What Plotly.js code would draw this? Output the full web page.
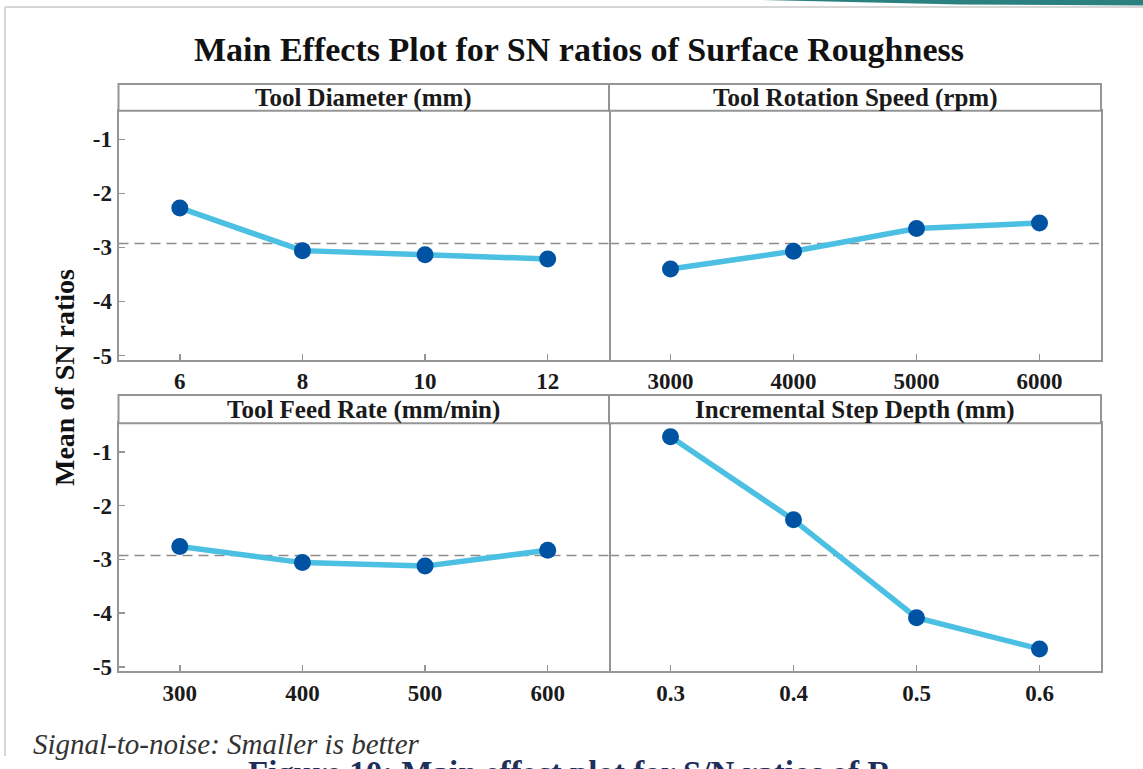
<!DOCTYPE html>
<html><head><meta charset="utf-8">
<script src="https://cdn.plot.ly/plotly-3.0.1.min.js"></script>
<style>html,body{margin:0;padding:0;background:#fff;}#chart{width:1143px;height:769px;}</style>
</head><body><div id="chart"></div>
<script>
const chartTitle = 'Main Effects Plot for SN ratios of Surface Roughness';
const yAxisTitle = 'Mean of SN ratios';
const footnote = 'Signal-to-noise: Smaller is better';
const caption = 'Figure 10: Main effect plot for S/N ratios of R';

const panelTitles = ['Tool Diameter (mm)', 'Tool Rotation Speed (rpm)', 'Tool Feed Rate (mm/min)', 'Incremental Step Depth (mm)'];

const toolDiameterLevels = [6, 8, 10, 12];
const toolDiameterSN = [-2.27, -3.06, -3.135, -3.215];
const rotationSpeedLevels = [3000, 4000, 5000, 6000];
const rotationSpeedSN = [-3.40, -3.07, -2.65, -2.55];
const feedRateLevels = [300, 400, 500, 600];
const feedRateSN = [-2.76, -3.06, -3.125, -2.83];
const stepDepthLevels = [0.3, 0.4, 0.5, 0.6];
const stepDepthSN = [-0.72, -2.265, -4.085, -4.665];

const xTickLabels = [['6','8','10','12'], ['3000','4000','5000','6000'], ['300','400','500','600'], ['0.3','0.4','0.5','0.6']];
const yTickValues = [-1, -2, -3, -4, -5];
const yTickLabels = ['-1', '-2', '-3', '-4', '-5'];

const W = 1143, H = 769;
const px = x => x / W;
const py = y => 1 - y / H;

const levels = [toolDiameterLevels, rotationSpeedLevels, feedRateLevels, stepDepthLevels];
const sn = [toolDiameterSN, rotationSpeedSN, feedRateSN, stepDepthSN];
const allSN = [].concat(...sn);
const grandMean = allSN.reduce((a, b) => a + b, 0) / allSN.length;

const serif = '"Liberation Serif", "Times New Roman", serif';
const axisGray = '#959595';
const lineBlue = '#4cc0e2';
const markerBlue = '#0052a3';

// panel geometry in pixels [left, right, stripTop, plotTop, plotBottom]
const panels = [
  [118.5, 609, 84, 110.7, 359.5],
  [609, 1101, 84, 110.7, 359.5],
  [118.5, 609, 395, 423.3, 671],
  [609, 1101, 395, 423.3, 671]
];
const yRange = [-5.075, -0.47];

const data = [];
const layout = {
  width: W, height: H,
  margin: {l: 0, r: 0, t: 0, b: 0},
  paper_bgcolor: '#ffffff', plot_bgcolor: '#ffffff',
  showlegend: false,
  font: {family: serif, color: '#000'},
  shapes: [], annotations: []
};

for (let i = 0; i < 4; i++) {
  const [l, r, st, pt, pb] = panels[i];
  const sfx = i === 0 ? '' : String(i + 1);
  const lv = levels[i];
  const step = lv[1] - lv[0];
  data.push({
    type: 'scatter', mode: 'lines+markers',
    x: lv, y: sn[i],
    xaxis: 'x' + sfx, yaxis: 'y' + sfx,
    line: {color: lineBlue, width: 5.5},
    marker: {color: markerBlue, size: 17, symbol: 'circle'},
    hoverinfo: 'x+y'
  });
  const isLeft = (i % 2 === 0);
  layout['xaxis' + sfx] = {
    domain: [px(l), px(r)],
    anchor: 'y' + sfx,
    range: [lv[0] - step / 2, lv[lv.length - 1] + step / 2],
    tickvals: lv, ticktext: xTickLabels[i],
    ticks: 'inside', ticklen: 6, tickwidth: 1.5, tickcolor: axisGray,
    showline: true, linecolor: axisGray, linewidth: 2, mirror: true,
    showgrid: false, zeroline: false,
    tickfont: {family: serif, size: 23, color: '#1a1a1a', weight: 'bold'},
    fixedrange: true
  };
  layout['yaxis' + sfx] = isLeft ? {
    domain: [py(pb), py(pt)],
    anchor: 'x' + sfx,
    range: yRange,
    tickvals: yTickValues, ticktext: yTickLabels,
    ticks: 'inside', ticklen: 6, tickwidth: 1.5, tickcolor: axisGray,
    showline: true, linecolor: axisGray, linewidth: 2, mirror: true,
    showgrid: false, zeroline: false,
    tickfont: {family: serif, size: 23, color: '#1a1a1a', weight: 'bold'},
    fixedrange: true
  } : {
    domain: [py(pb), py(pt)],
    anchor: 'x' + sfx,
    range: yRange, side: 'right',
    showticklabels: false, ticks: '',
    showline: true, linecolor: axisGray, linewidth: 2, mirror: false,
    showgrid: false, zeroline: false,
    fixedrange: true
  };
  // reference line at grand mean
  layout.shapes.push({
    type: 'line', xref: 'x' + sfx + ' domain', yref: 'y' + sfx,
    x0: 0, x1: 1, y0: grandMean, y1: grandMean,
    line: {color: '#8c8c8c', width: 1.5, dash: '10px,6px'}, layer: 'below'
  });
  // strip box
  layout.shapes.push({
    type: 'rect', xref: 'paper', yref: 'paper',
    x0: px(l), x1: px(r), y0: py(pt), y1: py(st),
    line: {color: axisGray, width: 2}, fillcolor: '#ffffff'
  });
  layout.annotations.push({
    xref: 'paper', yref: 'paper', x: px((l + r) / 2), y: py((st + pt) / 2 + 1),
    xanchor: 'center', yanchor: 'middle', showarrow: false,
    text: panelTitles[i],
    font: {family: serif, size: 25, color: '#1a1a1a', weight: 'bold'}
  });
}

// title
layout.annotations.push({
  xref: 'paper', yref: 'paper', x: px(579), y: py(49),
  xanchor: 'center', yanchor: 'middle', showarrow: false,
  text: chartTitle,
  font: {family: serif, size: 34, color: '#111', weight: 'bold'}
});
// y axis title
layout.annotations.push({
  xref: 'paper', yref: 'paper', x: px(64), y: py(378),
  xanchor: 'center', yanchor: 'middle', showarrow: false, textangle: -90,
  text: yAxisTitle,
  font: {family: serif, size: 28, color: '#111', weight: 'bold'}
});
// footnote
layout.annotations.push({
  xref: 'paper', yref: 'paper', x: px(31), y: py(744),
  xanchor: 'left', yanchor: 'middle', showarrow: false,
  text: '<i>' + footnote + '</i>',
  font: {family: serif, size: 29, color: '#333'}
});
// caption (cut off at the bottom edge, as in the reference)
layout.annotations.push({
  xref: 'paper', yref: 'paper', x: px(246), y: py(753),
  xanchor: 'left', yanchor: 'top', showarrow: false,
  text: caption,
  font: {family: serif, size: 33, color: '#1f2f5c', weight: 'bold'}
});
// page frame lines
layout.shapes.push({type: 'line', xref: 'paper', yref: 'paper', x0: px(5), x1: px(5), y0: py(7), y1: py(756), line: {color: '#d6d6d6', width: 2}});
layout.shapes.push({type: 'line', xref: 'paper', yref: 'paper', x0: px(5), x1: px(1143), y0: py(7), y1: py(7), line: {color: '#d6d6d6', width: 2}});
// teal slide decoration
layout.shapes.push({type: 'path', xref: 'paper', yref: 'paper',
  path: `M ${px(760)},${py(0)} L ${px(1143)},${py(0)} L ${px(1143)},${py(5.5)} L ${px(960)},${py(4.5)} Z`,
  fillcolor: '#2b8080', line: {width: 0}});

Plotly.newPlot('chart', data, layout, {displayModeBar: false, staticPlot: true});
</script>
</body></html>
